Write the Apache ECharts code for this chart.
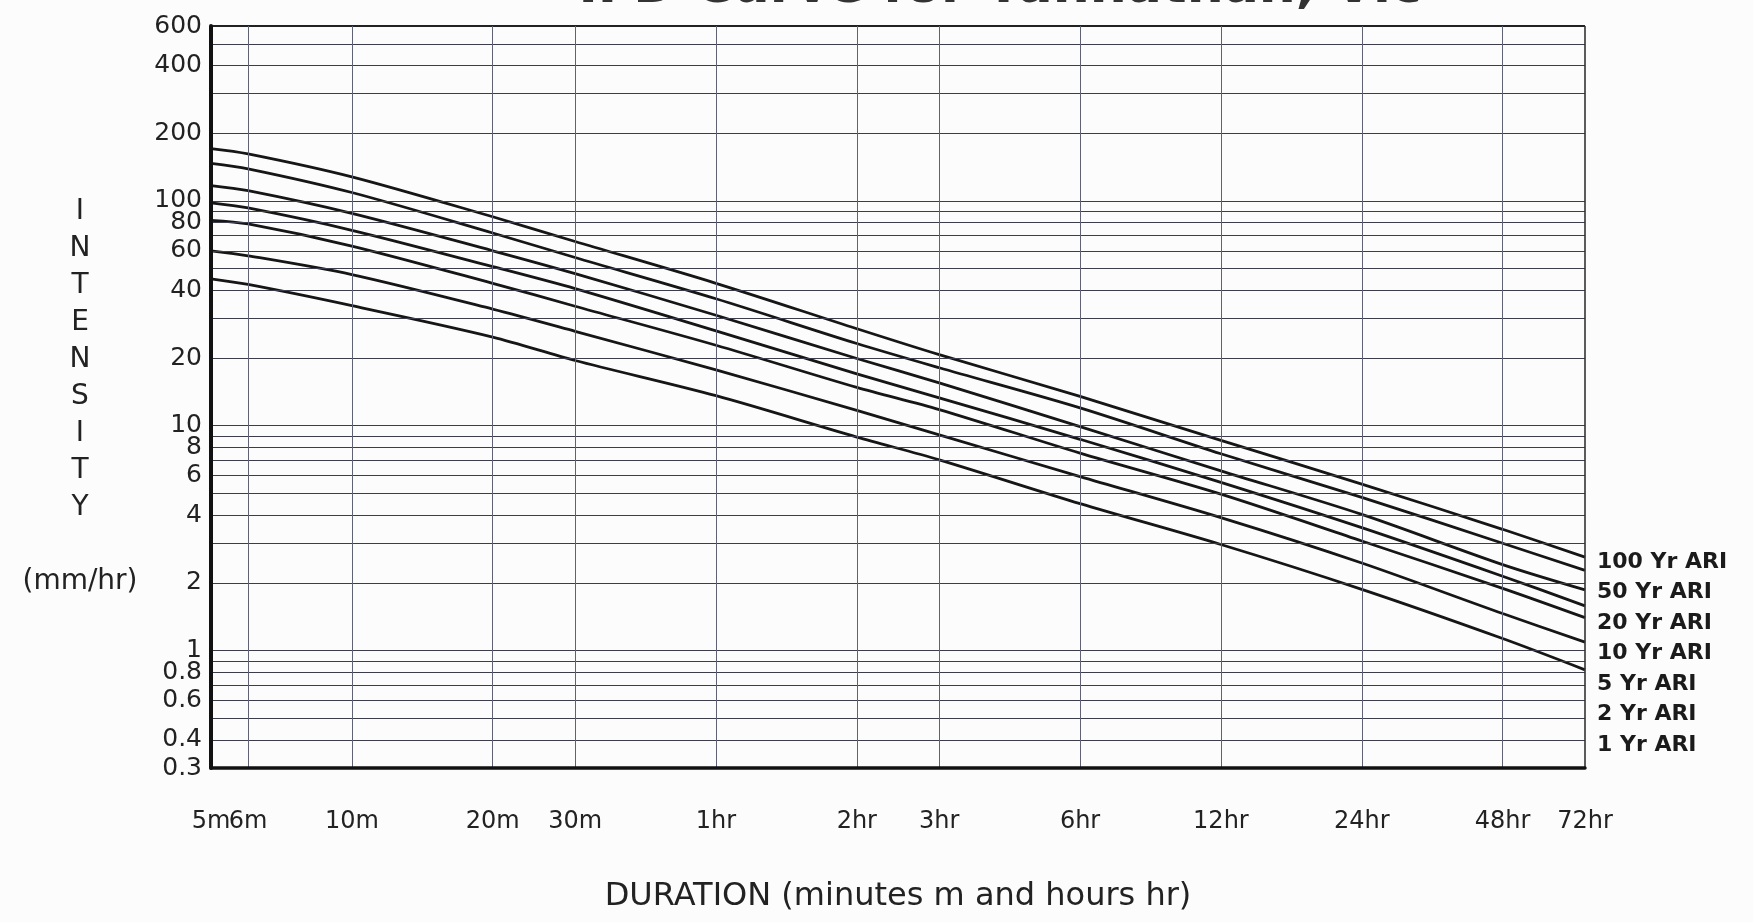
<!DOCTYPE html>
<html>
<head>
<meta charset="utf-8">
<script src="https://cdn.jsdelivr.net/npm/echarts@6/dist/echarts.min.js"></script>
<style>
    html, body { margin: 0; padding: 0; background: #fcfcfc; }
    #chart { width: 1753px; height: 922px; }
</style>
</head>
<body>
<div id="chart"></div>
<script>
// Durées en minutes (5 min -> 72 h) et leurs libellés
const durations = [5, 6, 10, 20, 30, 60, 120, 180, 360, 720, 1440, 2880, 4320];
const durationLabels = ['5m', '6m', '10m', '20m', '30m', '1hr', '2hr', '3hr', '6hr', '12hr', '24hr', '48hr', '72hr'];

// Intensités (mm/hr), une liste par période de retour
const ari100 = [171, 162, 128, 85, 66, 43, 27, 20.7, 13.5, 8.6, 5.5, 3.46, 2.6];
const ari50 = [147, 139, 109, 72, 56, 36.7, 23.2, 18.1, 12, 7.5, 4.8, 3.0, 2.27];
const ari20 = [117, 111, 88, 60, 47.5, 31, 19.9, 15.5, 9.9, 6.3, 4.03, 2.41, 1.86];
const ari10 = [98, 93, 74, 51, 40.7, 26.4, 17, 13.3, 8.7, 5.6, 3.52, 2.14, 1.58];
const ari5 = [82, 79, 63, 43, 34, 22.8, 14.8, 11.8, 7.55, 4.96, 3.07, 1.89, 1.4];
const ari2 = [60, 57, 47, 33, 26.3, 17.7, 11.7, 9.1, 5.94, 3.9, 2.45, 1.46, 1.09];
const ari1 = [45, 42.5, 34.2, 24.8, 19.5, 13.6, 8.9, 7.05, 4.5, 2.96, 1.87, 1.13, 0.82];

const ariNames = ['100 Yr ARI', '50 Yr ARI', '20 Yr ARI', '10 Yr ARI', '5 Yr ARI', '2 Yr ARI', '1 Yr ARI'];
const ariSeries = [ari100, ari50, ari20, ari10, ari5, ari2, ari1];

// Lignes de la grille log et graduations affichées
const intensityGrid = [0.3, 0.4, 0.5, 0.6, 0.7, 0.8, 0.9, 1, 2, 3, 4, 5, 6, 7, 8, 9,
    10, 20, 30, 40, 50, 60, 70, 80, 90, 100, 200, 300, 400, 500, 600];
const intensityLabels = [600, 400, 200, 100, 80, 60, 40, 20, 10, 8, 6, 4, 2, 1, 0.8, 0.6, 0.4, 0.3];

const chart = echarts.init(document.getElementById('chart'));

const FONT = 'DejaVu Sans';

const curves = ariSeries.map((values, i) => ({
    name: ariNames[i],
    type: 'line',
    smooth: 0.3,
    symbol: 'none',
    z: 4,
    lineStyle: { color: '#161616', width: 2.8 },
    data: durations.map((d, j) => [d, values[j]])
}));

// Quadrillage horizontal + libellés de l'axe Y
const hLines = {
    type: 'line',
    data: [],
    z: 2,
    markLine: {
        silent: true,
        symbol: ['none', 'none'],
        animation: false,
        label: {
            show: true,
            position: 'start',
            distance: 9,
            formatter: '{b}',
            color: '#222',
            fontSize: 25,
            fontFamily: FONT
        },
        lineStyle: { type: 'solid', color: '#3c3d4a', width: 1.2 },
        data: intensityGrid.map(v => ({
            yAxis: v,
            name: String(v),
            label: { show: intensityLabels.includes(v) },
            lineStyle: v === 0.3 ? { color: 'rgba(0,0,0,0)' } : (v === 600 ? { width: 1.8, color: '#222' } : {})
        }))
    }
};

// Quadrillage vertical + libellés des durées
const vLines = {
    type: 'line',
    data: [],
    z: 2,
    markLine: {
        silent: true,
        symbol: ['none', 'none'],
        animation: false,
        label: {
            show: true,
            position: 'start',
            distance: 42,
            formatter: '{b}',
            color: '#222',
            fontSize: 24,
            fontFamily: FONT
        },
        lineStyle: { type: 'solid', color: '#5f6273', width: 1 },
        data: durations.map((d, i) => ({
            xAxis: d,
            name: durationLabels[i],
            lineStyle: d === 4320 ? { width: 1.6, color: '#333' } : {}
        }))
    }
};

chart.setOption({
    backgroundColor: '#fcfcfc',
    animation: false,
    grid: { left: 211, right: 168, top: 26, bottom: 154 },
    xAxis: {
        type: 'log',
        logBase: 10,
        min: 5,
        max: 4320,
        z: 10,
        name: 'DURATION (minutes m and hours hr)',
        nameLocation: 'middle',
        nameGap: 113,
        nameTextStyle: { fontSize: 32, fontFamily: FONT, color: '#222' },
        axisLine: { onZero: false, lineStyle: { color: '#111', width: 3.5 } },
        axisTick: { show: false },
        axisLabel: { show: false },
        splitLine: { show: false }
    },
    yAxis: {
        type: 'log',
        logBase: 10,
        min: 0.3,
        max: 600,
        z: 10,
        name: 'I\nN\nT\nE\nN\nS\nI\nT\nY\n\n(mm/hr)',
        nameLocation: 'middle',
        nameRotate: 0,
        nameGap: 131,
        nameTextStyle: {
            fontSize: 28,
            fontFamily: FONT,
            color: '#222',
            align: 'center',
            verticalAlign: 'middle',
            lineHeight: 37
        },
        axisLine: { show: true, onZero: false, lineStyle: { color: '#111', width: 4 } },
        axisTick: { show: false },
        axisLabel: { show: false },
        splitLine: { show: false }
    },
    graphic: [
        {
            type: 'text',
            x: 1000,
            y: 14,
            style: {
                text: 'IFD Curve for Yannathan, Vic',
                align: 'center',
                verticalAlign: 'bottom',
                fontSize: 52,
                fontWeight: 'bold',
                fontFamily: FONT,
                fill: '#333'
            }
        },
        {
            type: 'text',
            x: 1597,
            y: 547,
            style: {
                text: ariNames.join('\n'),
                align: 'left',
                verticalAlign: 'top',
                lineHeight: 30.5,
                fontSize: 22,
                fontWeight: 'bold',
                fontFamily: FONT,
                fill: '#1b1b1b'
            }
        }
    ],
    series: [hLines, vLines].concat(curves)
});

window.addEventListener('resize', function () {
    chart.resize();
});
</script>
</body>
</html>
